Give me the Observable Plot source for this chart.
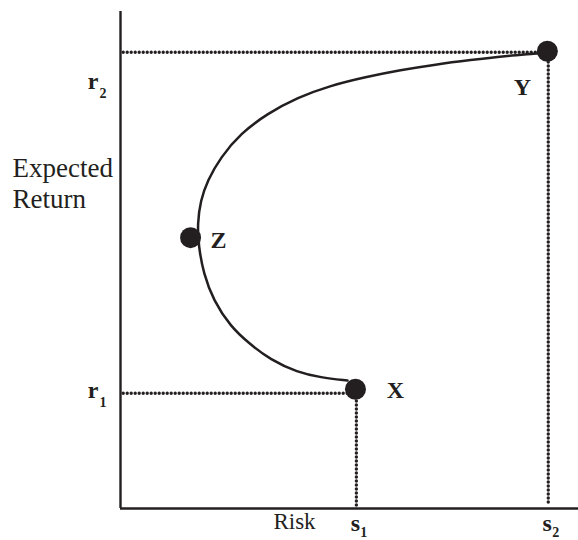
<!DOCTYPE html>
<html>
<head>
<meta charset="utf-8">
<script src="https://cdn.jsdelivr.net/npm/d3@7"></script>
<script src="https://cdn.jsdelivr.net/npm/@observablehq/plot@0.6"></script>
<style>
  html, body { margin: 0; padding: 0; background: #fff; }
  #chart svg { display: block; }
</style>
</head>
<body>
<div id="chart"></div>
<script>
// Frontier curve (risk, expected return)
const curveRisk   = [49.56, 43.67, 38.65, 32.75, 27.95, 24.02, 20.31, 18.12, 17.03, 16.81, 17.47, 19.00, 21.83, 26.20, 32.10, 38.65, 45.85, 53.49, 61.14, 68.78, 76.42, 84.06, 91.05, 92.79];
const curveReturn = [25.75, 26.36, 27.40, 29.90, 33.30, 36.62, 41.85, 47.28, 52.92, 57.34, 61.97, 66.00, 70.62, 75.45, 79.48, 82.70, 85.11, 86.82, 88.23, 89.34, 90.24, 91.05, 91.55, 91.75];

// Named portfolios
const pointNames  = ["X", "Y", "Z"];
const pointRisk   = [51.3, 93.2, 15.3];
const pointReturn = [24.0, 92.0, 54.5];

// Reference levels
const r1 = 23.2, r2 = 91.8;
const s1 = 51.5, s2 = 93.4;

const curve = curveRisk.map((x, i) => ({x, y: curveReturn[i]}));
const points = pointNames.map((name, i) => ({name, x: pointRisk[i], y: pointReturn[i]}));
const P = Object.fromEntries(points.map(d => [d.name, d]));

const ink = "#231f20";
const serif = "'Liberation Serif', 'Times New Roman', serif";
const dotted = {stroke: ink, strokeWidth: 3.4, strokeDasharray: "0,4", strokeLinecap: "round"};

const chart = Plot.plot({
  width: 578,
  height: 540,
  marginLeft: 120,
  marginRight: 0,
  marginTop: 11,
  marginBottom: 32,
  x: {domain: [0, 100], axis: null},
  y: {domain: [0, 100], axis: null},
  style: {fontFamily: serif, color: ink, background: "#fff"},
  marks: [
    // dotted guide lines
    Plot.ruleY([r2], {x1: 0.7, x2: s2, ...dotted}),
    Plot.ruleY([r1], {x1: 0.7, x2: s1, ...dotted}),
    Plot.ruleX([s1], {y1: 0.6, y2: r1, ...dotted}),
    Plot.ruleX([s2], {y1: 1.2, y2: r2, ...dotted}),
    // axes
    Plot.ruleX([0], {stroke: ink, strokeWidth: 2.4}),
    Plot.ruleY([0], {stroke: ink, strokeWidth: 2.4}),
    // frontier
    Plot.line(curve, {x: "x", y: "y", curve: "basis", stroke: ink, strokeWidth: 2.5}),
    Plot.dot(points, {x: "x", y: "y", r: 10.5, fill: ink, stroke: "none"}),
    // point labels
    Plot.text([P.X], {x: "x", y: "y", text: "name", dx: 40, dy: 1, fontSize: 24, fontWeight: "bold", fill: ink}),
    Plot.text([P.Y], {x: "x", y: "y", text: "name", dx: -25, dy: 36, fontSize: 24, fontWeight: "bold", fill: ink}),
    Plot.text([P.Z], {x: "x", y: "y", text: "name", dx: 28, dy: 3, fontSize: 24, fontWeight: "bold", fill: ink}),
    // y tick labels r1, r2
    Plot.text([r2], {x: 0, y: d => d, text: () => "r", textAnchor: "end", dx: -22, dy: 29, fontSize: 24, fontWeight: "bold", fill: ink}),
    Plot.text([r2], {x: 0, y: d => d, text: () => "2", textAnchor: "start", dx: -21, dy: 41, fontSize: 14, fontWeight: "bold", fill: ink}),
    Plot.text([r1], {x: 0, y: d => d, text: () => "r", textAnchor: "end", dx: -22, dy: -3, fontSize: 24, fontWeight: "bold", fill: ink}),
    Plot.text([r1], {x: 0, y: d => d, text: () => "1", textAnchor: "start", dx: -21, dy: 9, fontSize: 14, fontWeight: "bold", fill: ink}),
    // x tick labels s1, s2
    Plot.text([s1], {x: d => d, y: 0, text: () => "s", textAnchor: "middle", dx: -1, dy: 15, fontSize: 24, fontWeight: "bold", fill: ink}),
    Plot.text([s1], {x: d => d, y: 0, text: () => "1", textAnchor: "start", dx: 4, dy: 24, fontSize: 14, fontWeight: "bold", fill: ink}),
    Plot.text([s2], {x: d => d, y: 0, text: () => "s", textAnchor: "middle", dx: -1, dy: 15, fontSize: 24, fontWeight: "bold", fill: ink}),
    Plot.text([s2], {x: d => d, y: 0, text: () => "2", textAnchor: "start", dx: 4, dy: 24, fontSize: 14, fontWeight: "bold", fill: ink}),
    // axis titles
    Plot.text(["Risk"], {frameAnchor: "bottom-left", text: d => d, textAnchor: "middle", dx: 174, dy: 20, fontSize: 23, fill: ink}),
    Plot.text(["Expected\nReturn"], {frameAnchor: "left", text: d => d, textAnchor: "start", dx: -108, dy: -77, fontSize: 27, lineHeight: 1.15, fill: ink})
  ]
});

document.getElementById("chart").appendChild(chart);
</script>
</body>
</html>
